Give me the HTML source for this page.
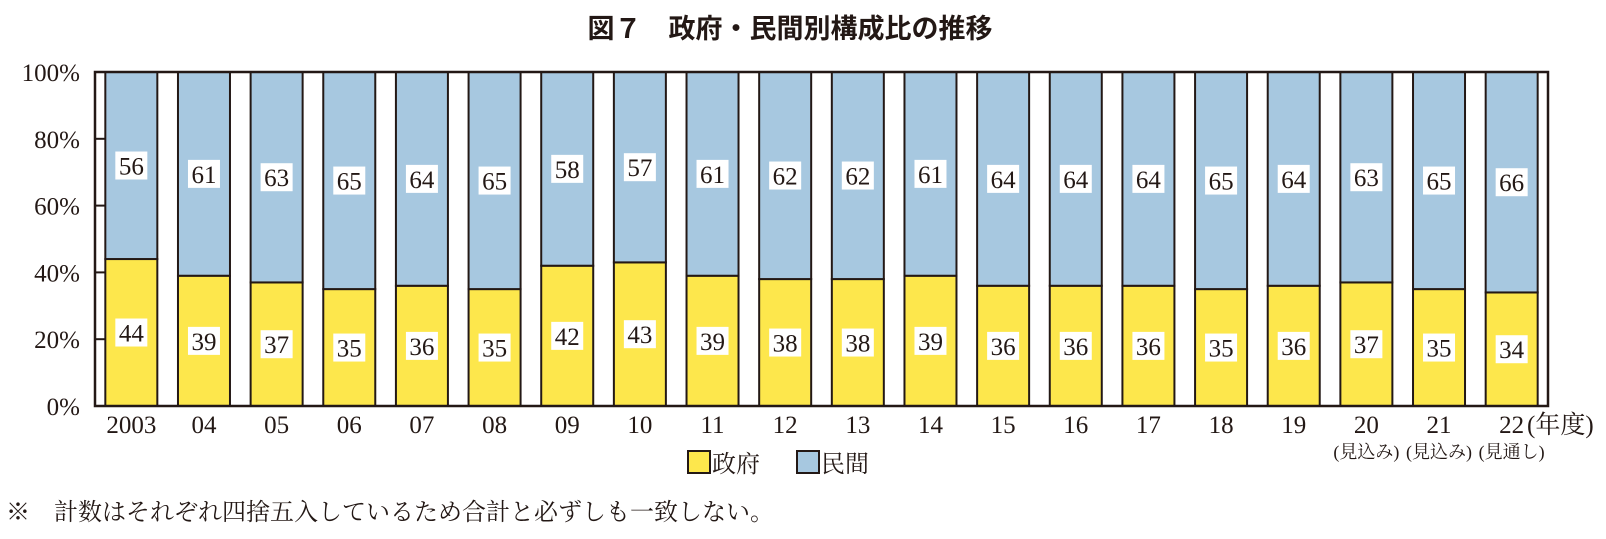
<!DOCTYPE html>
<html><head><meta charset="utf-8"><style>
body{margin:0;background:#fff;}
svg text{font-family:"Liberation Serif","Noto Serif CJK SC",serif;fill:#231815;}
</style></head><body>
<svg id="chart" width="1606" height="534" viewBox="0 0 1606 534" xmlns="http://www.w3.org/2000/svg">
<text x="790" y="38" text-anchor="middle" font-size="27" font-weight="bold" style="font-family:'Liberation Sans','Noto Sans CJK JP',sans-serif">図７　政府・民間別構成比の推移</text>
<g id="plot"></g>
<text x="1527" y="433" font-size="25" style="font-family:'Liberation Serif','Noto Serif CJK SC',serif">(年度)</text>
<g>
<rect x="688" y="451" width="22" height="22" fill="#FDE74C" stroke="#231815" stroke-width="2"/>
<text x="712" y="472" font-size="24" style="font-family:'Liberation Serif','Noto Serif CJK SC',serif">政府</text>
<rect x="797" y="451" width="22" height="22" fill="#A7C8E0" stroke="#231815" stroke-width="2"/>
<text x="821" y="472" font-size="24" style="font-family:'Liberation Serif','Noto Serif CJK SC',serif">民間</text>
</g>
<text x="6" y="520" font-size="24" style="font-family:'Liberation Serif','Noto Serif CJK SC',serif">※　計数はそれぞれ四捨五入しているため合計と必ずしも一致しない。</text>
</svg>
<script>
const categories=["2003","04","05","06","07","08","09","10","11","12","13","14","15","16","17","18","19","20","21","22"];
const subLabels=["","","","","","","","","","","","","","","","","","(見込み)","(見込み)","(見通し)"];
const government=[44,39,37,35,36,35,42,43,39,38,38,39,36,36,36,35,36,37,35,34];
const privateSec=[56,61,63,65,64,65,58,57,61,62,62,61,64,64,64,65,64,63,65,66];
const yTicks=[0,20,40,60,80,100];
const NS="http://www.w3.org/2000/svg";
const L=95,R=1548,T=72,B=406;
const step=(R-L)/categories.length,bw=52;
const y=v=>B-(v/100)*(B-T);
const xc=i=>L+step*(i+0.5);
const g=document.getElementById('plot');
function mk(t,a){const e=document.createElementNS(NS,t);for(const k in a)e.setAttribute(k,a[k]);g.appendChild(e);return e;}
categories.forEach((c,i)=>{
  const gv=government[i],pv=privateSec[i],tot=gv+pv;
  const gTop=y(gv/tot*100);
  const r1=mk('rect',{x:xc(i)-bw/2,y:gTop,width:bw,height:B-gTop,fill:'#FDE74C',stroke:'#231815','stroke-width':2});
  
  
  const r2=mk('rect',{x:xc(i)-bw/2,y:T,width:bw,height:gTop-T,fill:'#A7C8E0',stroke:'#231815','stroke-width':2});
  
  
  [[gv,(gTop+B)/2,'government'],[pv,(gTop+T)/2,'private']].forEach(([v,cy,n])=>{
    const b=mk('rect',{x:xc(i)-16,y:cy-14,width:32,height:28,fill:'#fff'});
    
    
    const t=mk('text',{x:xc(i),y:cy+9,'text-anchor':'middle','font-size':25});
    
    
    t.textContent=v;
  });
  const xl=mk('text',{x:xc(i),y:433,'text-anchor':'middle','font-size':25});
  
  
  xl.textContent=c;
  if(subLabels[i]){
    const s=mk('text',{x:xc(i),y:458,'text-anchor':'middle','font-size':18,style:"font-family:'Liberation Serif','Noto Serif CJK SC',serif"});
    
    
    s.textContent=subLabels[i];
  }
});
const ax=mk('path',{d:`M${L},${T}H${R}V${B}H${L}Z`,fill:'none',stroke:'#231815','stroke-width':2.5});


yTicks.forEach(v=>{
  const tk=mk('line',{x1:L,x2:L+10,y1:y(v),y2:y(v),stroke:'#231815','stroke-width':2});
  
  
  const t=mk('text',{x:L-15,y:y(v)+9,'text-anchor':'end','font-size':25});
  
  
  t.textContent=v+'%';
});
</script>
</body></html>
